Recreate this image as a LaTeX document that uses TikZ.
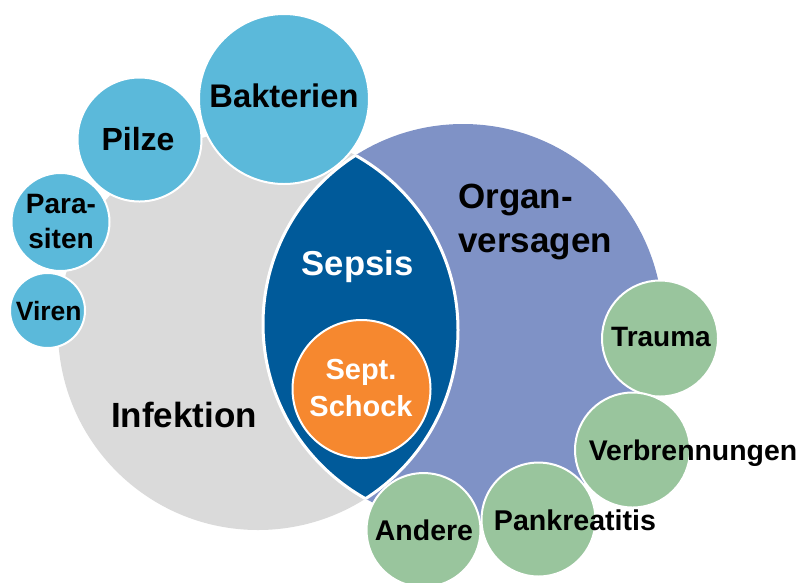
\documentclass[tikz,border=0pt]{standalone}
\usepackage{fontspec}
\setmainfont{Liberation Sans}
\usepackage{tikz}
\newcommand{\lblfont}[2]{\fontsize{#1pt}{#2pt}\selectfont\bfseries}
\definecolor{sepgray}{HTML}{DADADA}
\definecolor{sepperi}{HTML}{7F92C6}
\definecolor{sepdark}{HTML}{005A9A}
\definecolor{seplblue}{HTML}{5BB9DA}
\definecolor{sepgreen}{HTML}{99C59D}
\definecolor{seporange}{HTML}{F6882F}

\begin{document}
\begin{tikzpicture}[x=1pt, y=-1pt,
  bigcircle/.style={circle, inner sep=0pt, minimum size=400pt},
  bubble/.style={circle, draw=white, line width=2pt, inner sep=0pt, minimum size=#1},
  lbl/.style={anchor=base, align=center, inner sep=0pt}]

  \useasboundingbox (0,0) rectangle (802,582);

  \node[bigcircle, fill=sepgray] (infektion) at (258,330) {};
  \node[bigcircle, fill=sepperi] (organ) at (463,324) {};

  % Schnittmenge = Sepsis
  \begin{scope}
    \clip (infektion.center) circle[radius=200pt];
    \filldraw[fill=sepdark, draw=white, line width=3pt]
      (organ.center) circle[radius=200pt];
  \end{scope}
  \begin{scope}
    \clip (organ.center) circle[radius=200pt];
    \draw[white, line width=3pt] (infektion.center) circle[radius=200pt];
  \end{scope}

  \foreach \nm/\x/\y/\d in {
    bakterien/284/99/170,
    pilze/139.5/139.5/124,
    parasiten/60.5/222/98,
    viren/47.5/310.5/75
  }
    \node[bubble=\d pt, fill=seplblue] (\nm) at (\x,\y) {};

  \foreach \nm/\x/\y/\d in {
    trauma/660/338.5/116,
    verbrennungen/632.5/450/115,
    pankreatitis/538.5/519.5/114,
    andere/423.5/530/114
  }
    \node[bubble=\d pt, fill=sepgreen] (\nm) at (\x,\y) {};

  \node[bubble=138pt, fill=seporange] (schock) at (361.5,389) {};

  % base = Grundlinie der letzten Zeile
  \node[lbl, font={\lblfont{32.7}{39}}] (tBakterien) at (284,107) {Bakterien};
  \node[lbl, font={\lblfont{32}{38}}] (tPilze) at (138,150) {Pilze};
  \node[lbl, font={\lblfont{28}{35}}] (tParasiten) at (61,248) {Para-\\siten};
  \node[lbl, font={\lblfont{26.5}{32}}] (tViren) at (48.7,320.7) {Viren};
  \node[lbl, font={\lblfont{35}{42}}] (tInfektion) at (184,427) {Infektion};
  \node[lbl, font={\lblfont{34.6}{42}}, text=white] (tSepsis) at (357.5,275) {Sepsis};
  \node[lbl, font={\lblfont{29}{37.7}}, text=white] (tSchock) at (361,416.7) {Sept.\\Schock};
  \node[lbl, anchor=base west, align=left, font={\lblfont{35}{44}}] (tOrgan)
    at (458,252) {Organ-\\versagen};
  \node[lbl, font={\lblfont{28}{34}}] (tTrauma) at (661,346.7) {Trauma};
  \node[lbl, font={\lblfont{28.4}{34}}] (tVerbrennungen) at (693,460) {Verbrennungen};
  \node[lbl, font={\lblfont{28.6}{34}}] (tPankreatitis) at (575,530) {Pankreatitis};
  \node[lbl, font={\lblfont{28.5}{34}}] (tAndere) at (424,540) {Andere};

\end{tikzpicture}
\end{document}
